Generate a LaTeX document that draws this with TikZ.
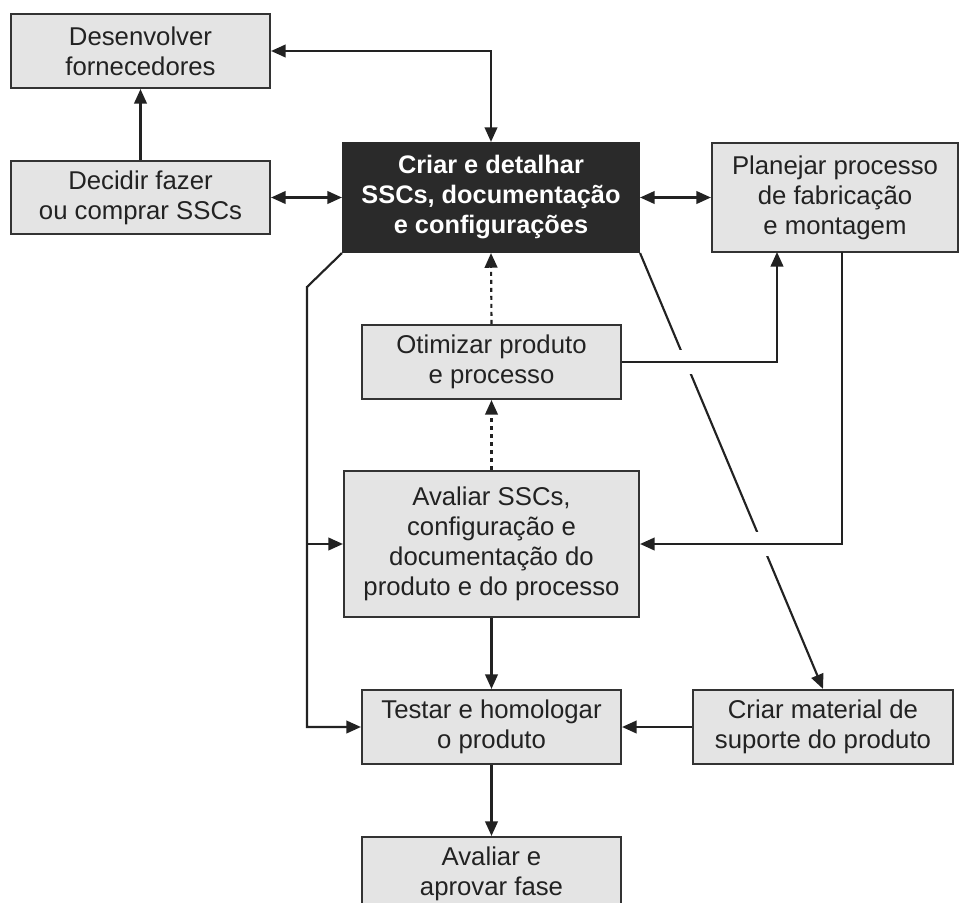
\documentclass[tikz,border=0pt]{standalone}
\usepackage{fontspec}
\setmainfont{Liberation Sans}
\usetikzlibrary{arrows.meta,intersections}
\definecolor{boxfill}{HTML}{E4E4E4}
\definecolor{boxline}{HTML}{333333}
\definecolor{darkfill}{HTML}{2A2A2A}
\definecolor{ink}{HTML}{222222}
\begin{document}
\begin{tikzpicture}[x=0.75pt,y=-0.75pt,
  font=\fontsize{19.3}{22.5}\selectfont,
  stagebox/.style={draw=boxline,fill=boxfill,text=ink,line width=1.6pt,
    align=center,inner sep=0pt},
  keybox/.style={stagebox,fill=darkfill,draw=darkfill,text=white,font=\fontsize{19}{22.5}\selectfont\bfseries},
  tip/.tip={Triangle[length=11pt,width=9.5pt]},
  conn/.style={draw=ink,line width=1.6pt,-tip},
  biconn/.style={conn,tip-tip},
  dotconn/.style={conn,dash pattern=on 3pt off 3pt},
  plain/.style={draw=ink,line width=1.6pt}]
\useasboundingbox (0,0) rectangle (961,903);
\clip (0,0) rectangle (961,903);

% stages
\node[stagebox,minimum width=259*0.75pt,minimum height=74*0.75pt] (dev) at (140.5,51) {Desenvolver\\fornecedores};
\node[stagebox,minimum width=259*0.75pt,minimum height=73*0.75pt] (dec) at (140.5,197.5) {Decidir fazer\\ou comprar SSCs};
\node[keybox,minimum width=296*0.75pt,minimum height=109*0.75pt] (cri) at (491,197.5) {Criar e detalhar\\SSCs, documentação\\e configurações};
\node[stagebox,minimum width=246*0.75pt,minimum height=109*0.75pt] (pla) at (835,197.5) {Planejar processo\\de fabricação\\e montagem};
\node[stagebox,minimum width=259*0.75pt,minimum height=74*0.75pt] (oti) at (491.5,362) {Otimizar produto\\e processo};
\node[stagebox,minimum width=295*0.75pt,minimum height=146*0.75pt] (ava) at (491.5,544) {Avaliar SSCs,\\configuração e\\documentação do\\produto e do processo};
\node[stagebox,minimum width=259*0.75pt,minimum height=74*0.75pt] (tes) at (491.5,727) {Testar e homologar\\o produto};
\node[stagebox,minimum width=260*0.75pt,minimum height=74*0.75pt] (mat) at (823,727) {Criar material de\\suporte do produto};
\node[stagebox,minimum width=259*0.75pt,minimum height=74*0.75pt] (apr) at (491.5,874) {Avaliar e\\aprovar fase};

% helper points
\coordinate (bend) at (307,287);
\coordinate (plaIn) at (777,252);
\coordinate (plaOut) at (842,252);

% diagonal to support material, with gaps where it is crossed
\path[name path=diag] (cri.south east) -- (mat.north);
\draw[conn] (cri.south east) -- (mat.north);
\path[name path=hA] (oti.east) -- (plaIn |- oti.east);
\path[name path=hB] (ava.east) -- (plaOut |- ava.east);
\fill[white,name intersections={of=diag and hA,name=xa}] ([shift={(-8,-12)}]xa-1) rectangle ([shift={(8,12)}]xa-1);
\fill[white,name intersections={of=diag and hB,name=xb}] ([shift={(-8,-12)}]xb-1) rectangle ([shift={(8,12)}]xb-1);

% connectors
\draw[biconn] (dev.east) -| (cri.north);
\draw[conn] (dec.north) -- (dev.south);
\draw[biconn] (dec.east) -- (cri.west);
\draw[biconn] (cri.east) -- (pla.west);
\draw[dotconn] (oti.north) -- (cri.south);
\draw[dotconn] (ava.north) -- (oti.south);
\draw[conn] (oti.east) -| (plaIn);
\draw[conn] (plaOut) |- (ava.east);
\draw[conn] (cri.south west) -- (bend) |- (tes.west);
\draw[conn] (bend |- ava.west) -- (ava.west);
\draw[conn] (ava.south) -- (tes.north);
\draw[conn] (mat.west) -- (tes.east);
\draw[conn] (tes.south) -- (apr.north);
\end{tikzpicture}
\end{document}
